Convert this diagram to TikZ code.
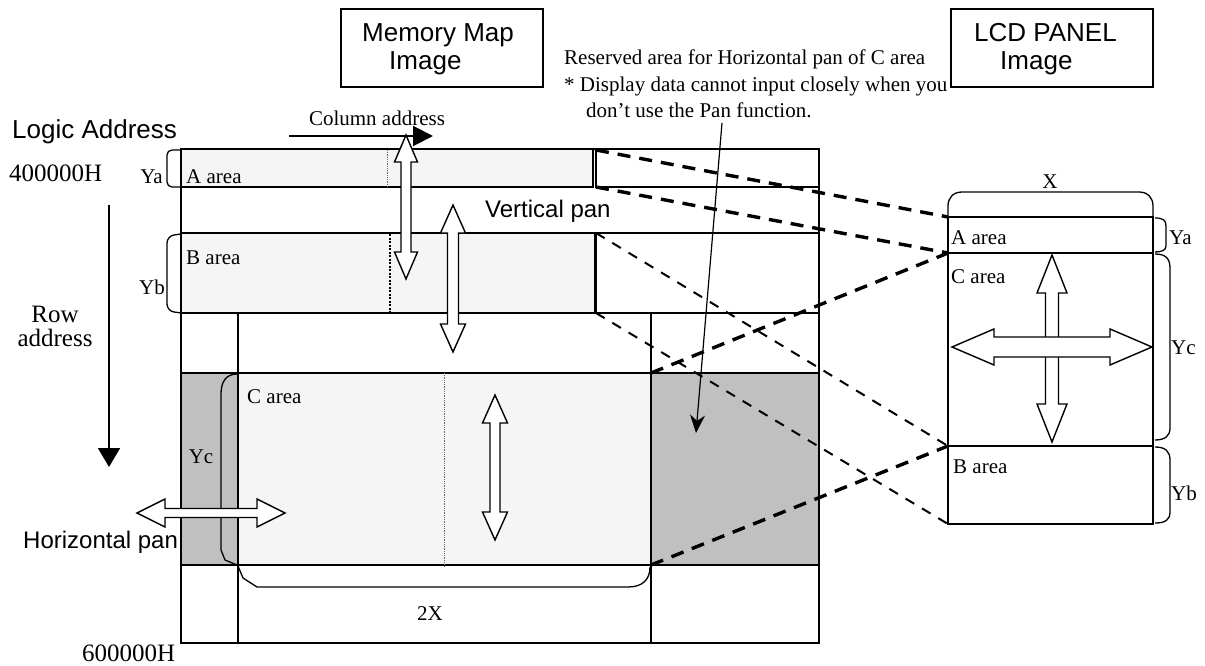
\documentclass[tikz,border=0pt]{standalone}
\usepackage{fontspec}
\setmainfont{Liberation Serif}
\setsansfont{Liberation Sans}
\usetikzlibrary{arrows.meta}
\definecolor{lightfill}{HTML}{F5F5F5}
\definecolor{grayfill}{HTML}{C0C0C0}
\newcommand\mmVarrow[6]{% x, ytop, ybottom, head half, shaft half, head length
  \draw[blockarrow] (#1,#2) -- ({#1+#4},{#2+#6}) -- ({#1+#5},{#2+#6}) -- ({#1+#5},{#3-#6}) -- ({#1+#4},{#3-#6}) -- (#1,#3)
    -- ({#1-#4},{#3-#6}) -- ({#1-#5},{#3-#6}) -- ({#1-#5},{#2+#6}) -- ({#1-#4},{#2+#6}) -- cycle;}
\newcommand\mmHarrow[6]{% y, xleft, xright, head half, shaft half, head length
  \draw[blockarrow] (#2,#1) -- ({#2+#6},{#1-#4}) -- ({#2+#6},{#1-#5}) -- ({#3-#6},{#1-#5}) -- ({#3-#6},{#1-#4}) -- (#3,#1)
    -- ({#3-#6},{#1+#4}) -- ({#3-#6},{#1+#5}) -- ({#2+#6},{#1+#5}) -- ({#2+#6},{#1+#4}) -- cycle;}
\begin{document}
\begin{tikzpicture}[x=1pt,y=-1pt,
  mline/.style={line width=1.6pt},
  cline/.style={line width=2.4pt},
  bracepath/.style={line width=1.3pt},
  blockarrow/.style={draw=black,fill=white,line width=1.4pt,line join=miter},
  thickdash/.style={line width=3.4pt,dash pattern=on 13pt off 9pt},
  thindash/.style={line width=2pt,dash pattern=on 10pt off 9pt},
  sanslab/.style={font=\sffamily\fontsize{24}{28}\selectfont,inner sep=0pt},
  titlelab/.style={font=\sffamily\fontsize{26}{28}\selectfont,inner sep=0pt,align=left},
  seriflab/.style={font=\fontsize{21}{24}\selectfont,inner sep=0pt},
  bigserif/.style={font=\fontsize{25}{27}\selectfont,inner sep=0pt},
  ]
\useasboundingbox (0,0) rectangle (1205,666);
% ---------- fills ----------
\fill[lightfill] (181,149) rectangle (593,187);
\fill[lightfill] (181,233) rectangle (595,313);
\fill[grayfill] (181,373) rectangle (238,565);
\fill[lightfill] (238,373) rectangle (651,565);
\fill[grayfill] (651,373) rectangle (819,565);
% ---------- memory map lines ----------
\draw[mline] (181,149) rectangle (819,643);
\draw[mline] (181,149) rectangle (593,187);
\draw[mline] (596,149) rectangle (819,187);
\draw[mline] (181,233) rectangle (595,313);
\draw[mline] (596,233) rectangle (819,313);
\draw[mline] (238,313) -- (238,643);
\draw[mline] (651,313) -- (651,643);
\draw[cline] (181,373) -- (819,373);
\draw[cline] (181,565) -- (819,565);
\draw[cline] (238,373) rectangle (651,565);
% dotted centre lines
\draw[densely dotted, black!60, line width=0.8pt] (387,150) -- (387,187);
\draw[dash pattern=on 2pt off 1.5pt, line width=1.6pt] (390,234) -- (390,313);
\draw[densely dotted, black!60, line width=0.8pt] (444,373) -- (444,567);
% braces on memory map
\draw[bracepath,rounded corners=5pt] (181,150) -- (167,150) -- (167,187) -- (181,187);
\draw[bracepath,rounded corners=7pt] (181,234) -- (167,236) -- (167,311) -- (181,313);
\draw[bracepath] (237,374) .. controls (226,374) and (221,382) .. (221,394) -- (221,550) -- (225,560) -- (237,565);
\draw[bracepath] (238,566) -- (243,578) -- (257,587) -- (628,587) .. controls (642,587) and (650,580) .. (650,567);
% ---------- LCD panel ----------
\draw[mline] (948,217) rectangle (1153,524);
\draw[mline] (948,253) -- (1153,253);
\draw[mline] (948,446) -- (1153,446);
\draw[bracepath] (948,217) -- (948,206) .. controls (948,198) and (953,192) .. (962,192) -- (1139,192) .. controls (1148,192) and (1153,198) .. (1153,206) -- (1153,217);
\draw[bracepath] (1155,218) .. controls (1163,218) and (1166,220) .. (1166,226) -- (1166,246) .. controls (1166,250) and (1162,252) .. (1155,252);
\draw[bracepath] (1155,254) .. controls (1165,254) and (1170,258) .. (1170,268) -- (1170,428) .. controls (1170,436) and (1165,440) .. (1155,440);
\draw[bracepath] (1155,447) .. controls (1165,447) and (1170,451) .. (1170,460) -- (1170,512) .. controls (1170,520) and (1165,523) .. (1155,523);
% ---------- named end points of the dashed projections ----------
\coordinate (resTL) at (596,150);
\coordinate (resBL) at (596,187);
\coordinate (bTR) at (596,233);
\coordinate (bBR) at (596,313);
\coordinate (cTR) at (651,373);
\coordinate (cBR) at (651,565);
\coordinate (lcdTop) at (948,217);
\coordinate (lcdAC) at (948,253);
\coordinate (lcdCB) at (948,446);
\coordinate (lcdBot) at (948,524);
\draw[thickdash] (resTL) -- (lcdTop);
\draw[thickdash] (resBL) -- (lcdAC);
\draw[thickdash] (cTR) -- (lcdAC);
\draw[thickdash] (cBR) -- (lcdCB);
\draw[thindash] (bTR) -- (lcdCB);
\draw[thindash] (bBR) -- (lcdBot);
% ---------- title boxes ----------
\draw[mline] (341,9) rectangle (543,87);
\draw[mline] (951,9) rectangle (1153,87);
\node[titlelab,anchor=north west] (mmtitle) at (362,23) {Memory Map\\\hspace*{27pt}Image};
\node[titlelab,anchor=north west] (lcdtitle) at (974,23) {LCD PANEL\\\hspace*{26pt}Image};
% ---------- reserved note ----------
\node[seriflab,anchor=north west,align=left,font=\fontsize{21}{26.5}\selectfont] (resnote) at (564,50)
  {Reserved area for Horizontal pan of C area\\* Display data cannot input closely when you\\\hspace*{22pt}don’t use the Pan function.};
\coordinate (resS) at (722,123);
\coordinate (resE) at (696,433);
\draw[line width=1.2pt,-{Stealth[length=18pt,width=15pt]}] (resS) -- (resE);
% ---------- address labels and arrows ----------
\node[titlelab,anchor=west] (logic) at (12,132) {Logic Address};
\node[bigserif,anchor=west] (addr4) at (9,173) {400000H};
\node[bigserif,anchor=west] (addr6) at (82,653) {600000H};
\node[seriflab] (coltext) at (377,118) {Column address};
\coordinate (colS) at (289,136);
\coordinate (colE) at (433,136);
\draw[line width=2pt,-{Triangle[length=20pt,width=20pt]}] (colS) -- (colE);
\node[bigserif,align=center,font=\fontsize{25}{24}\selectfont] (rowtext) at (55,326) {Row\\address};
\coordinate (rowS) at (109,205);
\coordinate (rowE) at (109,467);
\draw[line width=1.8pt,-{Triangle[length=19pt,width=22pt]}] (rowS) -- (rowE);
% ---------- block arrows ----------
\mmVarrow{406}{135}{279}{11.5}{5}{27}
\mmVarrow{453}{205}{352}{12.5}{5.5}{28}
\mmVarrow{495}{395}{540}{12.5}{5}{28}
\mmHarrow{513}{137}{285}{14}{4.5}{28}
\mmVarrow{1052}{255}{442}{15}{6.5}{38}
\mmHarrow{347}{952}{1152}{18}{10}{42}
% ---------- area labels ----------
\node[seriflab,anchor=west] (aarea) at (186,177) {A area};
\node[seriflab,anchor=west] (barea) at (186,258) {B area};
\node[seriflab,anchor=west] (carea) at (247,397) {C area};
\node[seriflab,anchor=east] (ya) at (163,177) {Ya};
\node[seriflab,anchor=east] (yb) at (165,287) {Yb};
\node[seriflab] (yc) at (201,457) {Yc};
\node[seriflab] (twox) at (430,614) {2X};
\node[sanslab,anchor=west] (vpan) at (485,211) {Vertical pan};
\node[sanslab,anchor=west] (hpan) at (23,542) {Horizontal pan};
\node[seriflab] (xlab) at (1050,182) {X};
\node[seriflab,anchor=west] (laarea) at (951,238) {A area};
\node[seriflab,anchor=west] (lcarea) at (951,277) {C area};
\node[seriflab,anchor=west] (lbarea) at (953,467) {B area};
\node[seriflab,anchor=west] (lya) at (1169,238) {Ya};
\node[seriflab,anchor=west] (lyc) at (1171,348) {Yc};
\node[seriflab,anchor=west] (lyb) at (1171,493) {Yb};
\end{tikzpicture}
\end{document}
